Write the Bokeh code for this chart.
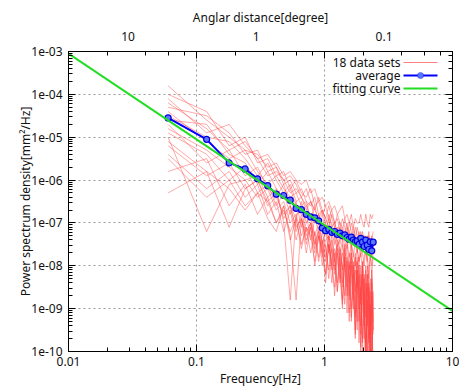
from bokeh.plotting import figure
from bokeh.models import (LogAxis, Range1d, LogScale, CustomJSTickFormatter, Label,
                          BoxAnnotation, LogTicker)
from bokeh.embed import file_html
from bokeh.resources import INLINE

FONT = "Noto Sans"

# frequencies [Hz]
freq = [0.06, 0.12, 0.18, 0.24, 0.30, 0.36, 0.42, 0.48, 0.54, 0.60,
        0.66, 0.72, 0.78, 0.84, 0.90, 0.96, 1.02, 1.08, 1.14, 1.20,
        1.26, 1.32, 1.38, 1.44, 1.50, 1.56, 1.62, 1.68, 1.74, 1.80,
        1.86, 1.92, 1.98, 2.04, 2.10, 2.16, 2.22, 2.28, 2.34, 2.40]

# 18 data sets, log10 of PSD [mm^2/Hz]
set01 = [-3.8, -4.6, -5.0, -5.3, -5.4, -5.7, -5.6, -5.9, -5.8, -6.0,
         -6.1, -6.0, -6.3, -6.2, -6.5, -6.4, -6.6, -6.5, -6.7, -6.6,
         -6.8, -6.7, -6.6, -6.9, -6.8, -7.0, -6.8, -7.1, -6.9, -7.0,
         -7.0, -6.8, -7.0, -7.1, -6.8, -7.0, -7.1, -6.8, -6.9, -6.8]
set02 = [-4.0, -4.4, -5.2, -5.0, -5.6, -5.5, -5.9, -5.8, -6.2, -6.0,
         -6.3, -6.4, -6.2, -6.6, -6.5, -6.8, -6.6, -6.9, -6.7, -7.0,
         -6.9, -7.2, -6.9, -7.1, -7.3, -7.0, -7.2, -7.4, -7.1, -7.3,
         -7.5, -7.2, -7.4, -7.6, -7.3, -7.5, -7.2, -7.6, -7.4, -7.2]
set03 = [-4.3, -4.5, -4.9, -5.4, -5.3, -5.8, -5.7, -6.1, -6.0, -6.3,
         -6.2, -6.5, -6.6, -6.4, -6.8, -6.7, -7.0, -6.8, -7.1, -7.0,
         -7.3, -7.1, -7.4, -7.2, -7.0, -7.4, -7.6, -7.3, -7.5, -7.7,
         -7.4, -7.8, -7.5, -7.3, -7.7, -7.9, -7.5, -7.6, -7.8, -7.4]
set04 = [-4.5, -5.0, -5.1, -5.5, -5.9, -5.6, -6.0, -6.3, -6.1, -6.5,
         -6.4, -6.7, -6.5, -6.9, -6.8, -7.1, -7.2, -6.9, -7.3, -7.1,
         -7.5, -7.4, -7.2, -7.6, -7.4, -7.8, -7.5, -7.7, -8.0, -7.6,
         -7.9, -7.7, -8.1, -7.8, -7.6, -8.0, -8.3, -7.8, -8.0, -7.7]
set05 = [-4.7, -5.6, -5.3, -5.9, -5.7, -6.2, -6.4, -6.1, -6.6, -6.9,
         -6.5, -7.0, -6.8, -7.3, -7.0, -7.5, -7.2, -7.7, -7.3, -7.9,
         -7.4, -7.6, -8.1, -7.5, -7.8, -8.4, -7.7, -8.0, -8.6, -7.8,
         -8.2, -8.9, -7.9, -8.3, -9.2, -8.0, -8.5, -9.6, -8.1, -8.8]
set06 = [-4.9, -5.4, -6.0, -5.7, -6.3, -6.1, -6.6, -6.3, -6.8, -6.5,
         -7.1, -6.8, -7.4, -6.9, -7.2, -7.7, -7.1, -7.5, -8.0, -7.3,
         -7.7, -8.3, -7.5, -7.9, -8.5, -7.7, -8.1, -8.8, -7.8, -8.3,
         -9.0, -8.0, -8.6, -9.4, -8.1, -8.9, -9.8, -8.3, -9.2, -10.3]
set07 = [-5.2, -5.9, -5.6, -6.2, -6.0, -6.5, -6.3, -6.9, -6.6, -7.2,
         -6.8, -7.5, -7.0, -7.3, -7.8, -7.2, -7.6, -8.1, -7.4, -7.9,
         -8.4, -7.6, -8.0, -8.7, -7.8, -8.2, -9.0, -7.9, -8.4, -9.3,
         -8.0, -8.7, -9.7, -8.2, -8.9, -10.2, -8.4, -9.1, -10.5, -8.6]
set08 = [-5.5, -6.4, -6.0, -6.6, -6.3, -6.9, -7.2, -6.6, -7.4, -6.9,
         -7.6, -7.1, -7.3, -7.9, -7.3, -7.7, -8.2, -7.5, -8.0, -8.5,
         -7.7, -8.2, -8.8, -7.8, -8.4, -9.1, -8.0, -8.6, -9.5, -8.1,
         -8.8, -9.9, -8.3, -9.0, -10.4, -8.5, -9.3, -10.6, -8.7, -9.5]
set09 = [-5.0, -7.2, -6.1, -6.0, -6.4, -6.2, -6.7, -6.5, -7.0, -6.8,
         -7.3, -7.0, -6.9, -7.5, -7.2, -7.8, -7.4, -7.3, -8.1, -7.6,
         -7.9, -8.4, -7.7, -8.0, -8.7, -7.9, -8.3, -9.0, -8.1, -8.5,
         -9.3, -8.2, -8.8, -9.7, -8.4, -9.1, -10.1, -8.6, -9.4, -10.6]
set10 = [-4.2, -4.8, -5.3, -5.1, -5.5, -5.9, -5.8, -6.0, -6.3, -6.2,
         -6.4, -6.6, -6.5, -6.7, -6.9, -6.7, -6.9, -7.1, -6.8, -7.0,
         -7.2, -7.0, -7.1, -7.3, -7.1, -7.2, -7.4, -7.1, -7.3, -7.5,
         -7.2, -7.4, -7.6, -7.3, -7.4, -7.7, -7.3, -7.5, -7.7, -7.4]
set11 = [-5.8, -5.5, -6.6, -6.1, -6.8, -6.4, -7.0, -6.6, -7.3, -8.8,
         -6.9, -7.4, -7.1, -7.7, -7.3, -8.0, -7.5, -8.3, -7.6, -7.8,
         -8.6, -7.7, -8.0, -8.9, -7.9, -8.3, -9.2, -8.0, -8.5, -9.5,
         -8.2, -8.7, -9.8, -8.3, -8.9, -10.2, -8.5, -9.2, -10.5, -8.8]
set12 = [-6.3, -5.8, -6.2, -6.7, -6.3, -6.5, -7.0, -6.7, -7.2, -6.9,
         -7.5, -7.1, -7.7, -7.2, -7.9, -7.4, -8.2, -7.5, -8.4, -7.7,
         -8.6, -7.8, -8.9, -7.9, -9.1, -8.0, -9.3, -8.2, -9.6, -8.3,
         -9.8, -8.5, -10.1, -8.6, -10.3, -8.8, -9.7, -8.9, -10.4, -9.0]
set13 = [-4.4, -5.1, -5.5, -5.3, -5.8, -6.1, -5.9, -6.2, -6.4, -6.3,
         -6.6, -6.5, -6.9, -6.6, -7.0, -6.8, -7.2, -6.9, -7.0, -7.3,
         -7.1, -7.5, -7.2, -7.4, -7.6, -7.3, -7.5, -7.8, -7.4, -7.6,
         -7.9, -7.5, -7.7, -8.0, -7.6, -7.8, -8.1, -7.7, -8.2, -7.8]
set14 = [-4.8, -5.3, -5.7, -6.0, -5.9, -6.4, -6.2, -7.0, -8.8, -6.8,
         -6.7, -7.2, -7.0, -7.5, -7.1, -7.4, -7.8, -7.3, -7.6, -8.1,
         -7.5, -7.8, -8.4, -7.6, -8.0, -8.7, -7.8, -8.2, -9.1, -7.9,
         -8.4, -9.4, -8.0, -8.6, -9.8, -8.2, -8.8, -10.1, -8.4, -9.0]
set15 = [-4.1, -4.9, -4.7, -5.2, -5.5, -5.4, -5.7, -6.0, -5.9, -6.1,
         -6.4, -6.2, -6.5, -6.7, -6.4, -6.7, -6.9, -6.6, -6.9, -7.1,
         -6.8, -7.0, -7.2, -6.9, -7.1, -7.3, -7.0, -7.2, -7.4, -7.1,
         -7.3, -7.5, -7.2, -7.4, -7.6, -7.3, -7.5, -7.7, -7.3, -7.6]
set16 = [-5.4, -6.2, -5.8, -6.4, -6.1, -6.8, -6.5, -7.2, -6.7, -7.4,
         -6.9, -7.7, -7.1, -8.0, -7.3, -7.6, -8.4, -7.5, -7.9, -8.7,
         -7.6, -8.1, -9.0, -7.8, -8.3, -9.3, -7.9, -8.5, -9.7, -8.1,
         -8.7, -10.0, -8.2, -8.9, -10.4, -8.4, -9.1, -10.7, -8.6, -9.3]
set17 = [-5.1, -5.8, -7.1, -6.2, -6.0, -6.6, -6.4, -6.8, -6.6, -7.1,
         -6.9, -7.3, -7.0, -7.6, -7.2, -7.5, -7.9, -7.3, -7.7, -8.2,
         -7.5, -7.9, -8.5, -7.6, -8.1, -8.8, -7.7, -8.3, -9.2, -7.9,
         -8.5, -9.6, -8.0, -8.7, -10.0, -8.2, -8.9, -10.3, -8.3, -9.6]
set18 = [-4.6, -4.7, -5.4, -5.6, -6.1, -5.8, -6.2, -6.4, -6.2, -6.6,
         -6.7, -6.6, -6.9, -7.0, -6.8, -7.2, -7.0, -7.4, -7.2, -7.5,
         -7.3, -7.7, -7.4, -7.9, -7.5, -8.1, -7.6, -8.3, -7.7, -8.5,
         -7.8, -8.8, -7.9, -9.1, -8.0, -9.4, -8.1, -9.8, -8.2, -9.5]

# average, log10 of PSD
avg_log = [-4.55, -5.05, -5.60, -5.74, -5.97, -6.13, -6.33, -6.36, -6.47, -6.66,
           -6.69, -6.80, -6.86, -6.88, -6.95, -7.12, -7.18, -7.15, -7.22, -7.20,
           -7.27, -7.24, -7.30, -7.28, -7.34, -7.38, -7.33, -7.40, -7.44, -7.42,
           -7.50, -7.36, -7.45, -7.55, -7.40, -7.52, -7.62, -7.44, -7.65, -7.45]

# fitting curve (power law, straight in log-log)
fit_freq = [0.01, 10.0]
fit_psd = [8.9e-4, 8.9e-10]

# top axis: angular distance [degree] = ANG_K / frequency
ANG_K = 0.292
x_lim = [0.01, 10.0]
y_lim = [1e-10, 1e-3]

legend_labels = ["18 data sets", "average", "fitting curve"]

sets = [set01, set02, set03, set04, set05, set06, set07, set08, set09,
        set10, set11, set12, set13, set14, set15, set16, set17, set18]
ys = [[10 ** v for v in s] for s in sets]
avg = [10 ** v for v in avg_log]

p = figure(width=459, height=389, x_axis_type="log", y_axis_type="log",
           x_range=Range1d(*x_lim), y_range=Range1d(*y_lim),
           output_backend="svg", toolbar_location=None,
           min_border_left=68, min_border_right=7, min_border_top=51, min_border_bottom=38)
p.background_fill_color = "white"
p.border_fill_color = "white"
p.outline_line_color = "black"
p.outline_line_alpha = 1
p.outline_line_width = 1

for g in (p.xgrid[0], p.ygrid[0]):
    g.grid_line_color = "#9a9a9a"
    g.grid_line_dash = "2 3"
    g.grid_line_width = 1

x_fmt = CustomJSTickFormatter(code="return String(parseFloat(tick.toPrecision(3)));")
y_fmt = CustomJSTickFormatter(code=r"""
var s = tick.toExponential(0);
return s.replace(/e([+-])(\d)$/, function(m, sg, d){ return 'e' + sg + '0' + d; });
""")
empty_fmt = CustomJSTickFormatter(code="return '';")


def style(ax):
    ax.major_tick_in = 7
    ax.major_tick_out = 0
    ax.minor_tick_in = 4
    ax.minor_tick_out = 0
    ax.axis_line_color = "black"
    ax.major_tick_line_color = "black"
    ax.minor_tick_line_color = "black"
    ax.major_label_text_font = FONT
    ax.major_label_text_font_size = "12px"
    ax.major_label_text_color = "#111111"
    ax.axis_label_text_font = FONT
    ax.axis_label_text_font_size = "12px"
    ax.axis_label_text_font_style = "normal"
    ax.axis_label_text_color = "#111111"


xa = p.xaxis[0]
style(xa)
xa.formatter = x_fmt
xa.axis_label = "Frequency[Hz]"
xa.major_label_standoff = 5
xa.axis_label_standoff = 1

ya = p.yaxis[0]
style(ya)
ya.formatter = y_fmt
ya.axis_label = "Power spectrum density[mm²/Hz]"
ya.major_label_standoff = 6
ya.axis_label_standoff = -6

# mirror axes (ticks only)
right_ax = LogAxis(ticker=LogTicker(), formatter=empty_fmt)
style(right_ax)
right_ax.major_label_text_font_size = "0px"
right_ax.major_label_standoff = 0
p.add_layout(right_ax, "right")

top_mirror = LogAxis(ticker=LogTicker(), formatter=empty_fmt)
style(top_mirror)
top_mirror.major_label_text_font_size = "0px"
top_mirror.major_label_standoff = 0
p.add_layout(top_mirror, "above")

# angular distance axis
p.extra_x_ranges = {"ang": Range1d(ANG_K / x_lim[0], ANG_K / x_lim[1])}
p.extra_x_scales = {"ang": LogScale()}
ang_ax = LogAxis(x_range_name="ang", ticker=LogTicker(), formatter=x_fmt)
style(ang_ax)
ang_ax.axis_label = "Anglar distance[degree]"
ang_ax.major_tick_in = 0
ang_ax.minor_tick_in = 0
ang_ax.axis_line_color = None
ang_ax.major_tick_line_color = None
ang_ax.minor_tick_line_color = None
ang_ax.major_label_standoff = 11
ang_ax.axis_label_standoff = 3
p.add_layout(ang_ax, "above")

# data
p.multi_line(xs=[freq] * len(ys), ys=ys, line_color="#ff4040", line_alpha=0.45, line_width=1)
p.line(freq, avg, line_color="#0000ff", line_width=2)
p.scatter(freq, avg, marker="circle", size=6, fill_color="#5a78ff",
          line_color="#0000dd", line_width=1.2)
p.line(fit_freq, fit_psd, line_color="#22dd22", line_width=2)


def sbox(l, r, b, t, **kw):
    return BoxAnnotation(left=l, right=r, bottom=b, top=t,
                         left_units="screen", right_units="screen", bottom_units="screen",
                         top_units="screen", **kw)


# legend (gnuplot style: text then sample)
rows_y = [289, 276, 263]
for txt, yy in zip(legend_labels, rows_y):
    p.add_layout(Label(x=332, y=yy, x_units="screen", y_units="screen", text=txt,
                       text_align="right", text_baseline="middle", text_font=FONT,
                       text_font_size="12px", text_color="#111111"))

p.add_layout(sbox(335, 369, rows_y[0] - 0.5, rows_y[0] + 0.5,
                  fill_color="#ff8080", fill_alpha=1, line_alpha=0))
p.add_layout(sbox(335, 369, rows_y[1] - 1, rows_y[1] + 1,
                  fill_color="#0000ff", fill_alpha=1, line_alpha=0))
p.add_layout(sbox(349, 355, rows_y[1] - 3, rows_y[1] + 3,
                  fill_color="#5a78ff", fill_alpha=1, line_color="#0000dd",
                  line_width=1.2, border_radius=3))
p.add_layout(sbox(335, 369, rows_y[2] - 1, rows_y[2] + 1,
                  fill_color="#22dd22", fill_alpha=1, line_alpha=0))

open("out.html", "w").write(file_html(p, INLINE))
